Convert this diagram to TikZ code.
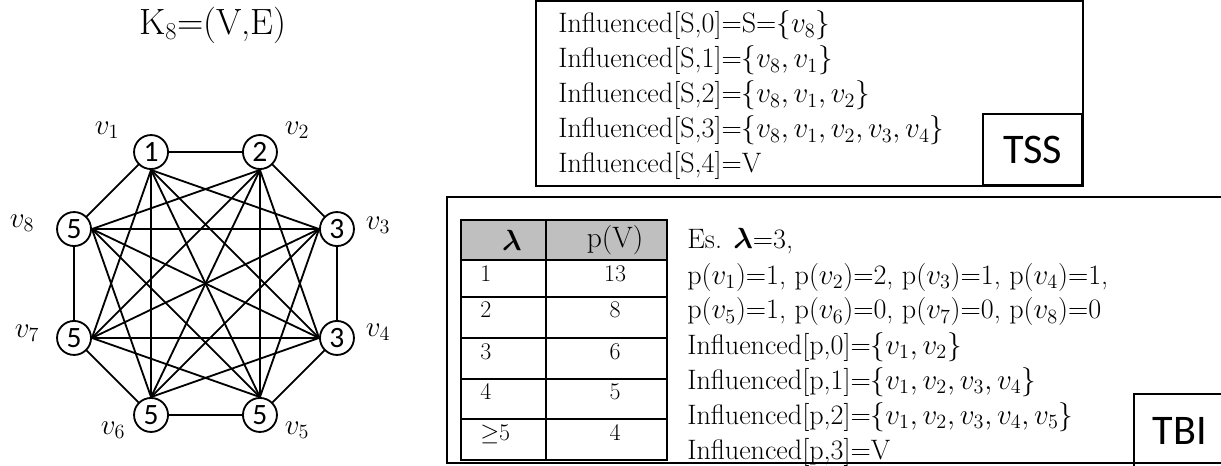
\documentclass[tikz,border=0pt]{standalone}
\usepackage{amsmath,amssymb}
\usepackage{fontspec}
\newfontfamily\calib{Carlito}

\begin{document}
\begin{tikzpicture}[line cap=round,font=\fontsize{20}{25}\selectfont,
  vert/.style={draw,circle,line width=1.3pt,fill=white,minimum size=0.85cm,inner sep=0pt,font=\calib\fontsize{21}{25}\selectfont},
  link/.style={line width=1.3pt},
  frame/.style={draw,line width=1.2pt},
  tag/.style={frame,font=\calib\fontsize{30}{34}\selectfont},
  tab/.style={font=\fontsize{17}{20}\selectfont}]
\useasboundingbox (0,0) rectangle (30.525,11.625);
% the graph K_8
\node (title) at (5.325,10.99) {\fontsize{26}{30}\selectfont K$_8$=(V,E)};
\node[vert] (v1) at (3.776,7.824) {1};
\node[vert] (v2) at (6.499,7.824) {2};
\node[vert] (v3) at (8.424,5.899) {3};
\node[vert] (v4) at (8.424,3.176) {3};
\node[vert] (v5) at (6.499,1.251) {5};
\node[vert] (v6) at (3.776,1.251) {5};
\node[vert] (v7) at (1.851,3.176) {5};
\node[vert] (v8) at (1.851,5.899) {5};
\node (l1) at (2.675,8.375) {$v_1$};
\node (l2) at (7.425,8.375) {$v_2$};
\node (l3) at (9.45,6.0) {$v_3$};
\node (l4) at (9.45,3.325) {$v_4$};
\node (l5) at (7.425,0.875) {$v_5$};
\node (l6) at (2.825,0.875) {$v_6$};
\node (l7) at (0.675,3.3) {$v_7$};
\node (l8) at (0.55,6.05) {$v_8$};
\foreach \a/\b in {1/2,2/3,3/4,4/5,5/6,6/7,7/8,8/1}
  \draw[link] (v\a) -- (v\b);
\foreach \i/\s in {1/south,2/south,3/west,4/west,5/north,6/north,7/east,8/east}
  \coordinate (h\i) at (v\i.\s);
\foreach \a/\b in {1/3,1/4,1/5,1/6,1/7,2/4,2/5,2/6,2/7,2/8,3/5,3/6,3/7,3/8,4/6,4/7,4/8,5/7,5/8,6/8}
  \draw[link] (h\a) -- (h\b);
% TSS
\draw[frame] (13.4,11.6) rectangle (27.075,6.975);
\node[tag,minimum width=2.475cm,minimum height=1.775cm,anchor=south east] (tss) at (27.075,6.975) {TSS};
\foreach \t [count=\i from 0] in {{Influenced[S,0]=S=$\{v_8\}$},{Influenced[S,1]=$\{v_8,v_1\}$},{Influenced[S,2]=$\{v_8,v_1,v_2\}$},{Influenced[S,3]=$\{v_8,v_1,v_2,v_3,v_4\}$},{Influenced[S,4]=V}}
  \node[anchor=base west,inner sep=0pt] (s\i) at (13.95,{10.8-0.875*\i}) {\t};
% TBI
\draw[frame] (11.175,6.7) rectangle (30.8,0.05);
\node[tag,minimum width=2.3cm,minimum height=1.85cm,anchor=north west] (tbi) at (28.325,1.8) {TBI};
\fill[black!25] (11.525,6.125) rectangle (16.675,5.125);
\draw[frame] (11.525,6.125) rectangle (16.675,0.125);
\draw[frame] (13.65,6.125) -- (13.65,0.125);
\foreach \y in {5.125,4.2,3.175,2.15,1.15}
  \draw[frame] (11.525,\y) -- (16.675,\y);
\node (lam) at (12.8,5.625) {\fontsize{21}{25}\selectfont$\boldsymbol{\lambda}$};
\node (pv) at (15.375,5.625) {\fontsize{21}{25}\selectfont p(V)};
\foreach \a/\b/\y [count=\i] in {1/13/4.6,2/8/3.675,3/6/2.65,4/5/1.625,{$\geq$5}/4/0.625}{
  \node[tab,anchor=base west,inner sep=0pt] (a\i) at (12.0,\y) {\a};
  \node[tab,anchor=base,inner sep=0pt] (b\i) at (15.375,\y) {\b};
}
\foreach \t [count=\i from 0] in {{Es. $\boldsymbol{\lambda}$=3,},{p($v_1$)=1, p($v_2$)=2, p($v_3$)=1, p($v_4$)=1,},{p($v_5$)=1, p($v_6$)=0, p($v_7$)=0, p($v_8$)=0},{Influenced[p,0]=$\{v_1,v_2\}$},{Influenced[p,1]=$\{v_1,v_2,v_3,v_4\}$},{Influenced[p,2]=$\{v_1,v_2,v_3,v_4,v_5\}$},{Influenced[p,3]=V}}
  \node[anchor=base west,inner sep=0pt] (p\i) at (17.175,{5.4-0.875*\i}) {\t};
\end{tikzpicture}
\end{document}
